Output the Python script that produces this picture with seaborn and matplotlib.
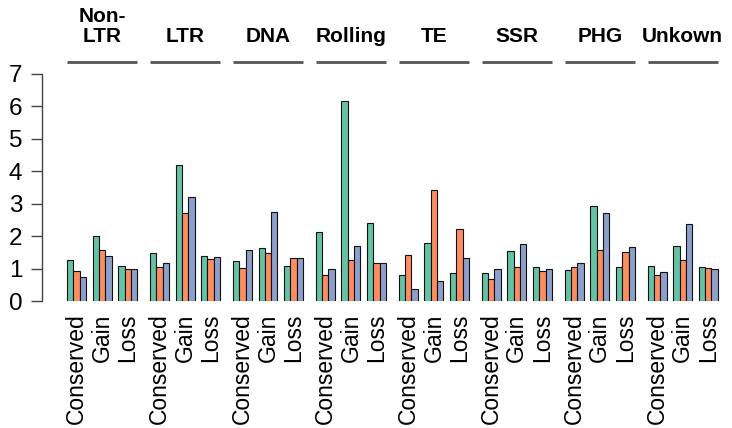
import numpy as np
import pandas as pd
import matplotlib
matplotlib.use("Agg")
import matplotlib.pyplot as plt
import matplotlib.transforms as mtransforms
import seaborn as sns

groups = ["Non-\nLTR", "LTR", "DNA", "Rolling", "TE", "SSR", "PHG", "Unkown"]
subgroups = ["Conserved", "Gain", "Loss"]
series = ["A", "B", "C"]
colors = ["#66C2A5", "#FC8D62", "#8DA0CB"]

# values per series, ordered group by group, subgroup by subgroup
green = [1.27, 1.99, 1.08,
         1.47, 4.18, 1.40,
         1.24, 1.64, 1.09,
         2.14, 6.16, 2.40,
         0.80, 1.80, 0.85,
         0.85, 1.54, 1.06,
         0.96, 2.94, 1.05,
         1.08, 1.69, 1.05]
orange = [0.91, 1.58, 0.98,
          1.04, 2.71, 1.30,
          1.01, 1.48, 1.33,
          0.79, 1.27, 1.16,
          1.42, 3.43, 2.21,
          0.68, 1.06, 0.91,
          1.04, 1.56, 1.50,
          0.80, 1.27, 1.02]
blue = [0.73, 1.39, 0.98,
        1.16, 3.20, 1.35,
        1.57, 2.75, 1.33,
        0.98, 1.69, 1.16,
        0.36, 0.61, 1.33,
        1.00, 1.77, 1.00,
        1.18, 2.70, 1.65,
        0.89, 2.36, 0.99]
yticks = [0, 1, 2, 3, 4, 5, 6, 7]

GROUP_STRIDE = 3.24
rows = []
for si, vals in enumerate([green, orange, blue]):
    for gi, g in enumerate(groups):
        for ki, k in enumerate(subgroups):
            rows.append({"pos": gi * GROUP_STRIDE + ki, "series": series[si],
                         "value": vals[gi * 3 + ki]})
df = pd.DataFrame(rows)

plt.rcParams["font.family"] = ["Liberation Sans", "DejaVu Sans"]
fig = plt.figure(figsize=(7.32, 4.28), dpi=100)
W, H = 732, 428
ax = fig.add_axes([41.7 / W, (H - 301) / H, (725 - 41.7) / W, (301 - 74) / H])

sns.barplot(data=df, x="pos", y="value", hue="series", palette=colors,
            native_scale=True, width=0.74, gap=0, saturation=1,
            errorbar=None, edgecolor="#111111", linewidth=0.8,
            legend=False, ax=ax)

px_per_unit = 25.6
x0 = -(76.5 - 41.7) / px_per_unit
x1 = (725 - 76.5) / px_per_unit
ax.set_xlim(x0, x1)
ax.set_ylim(0, 7)

for s in ["top", "right", "bottom"]:
    ax.spines[s].set_visible(False)
ax.spines["left"].set_color("#444444")
ax.spines["left"].set_linewidth(1.0)

ax.set_yticks(yticks)
ax.set_yticklabels([str(t) for t in yticks], fontsize=17.5)
ax.tick_params(axis="y", length=8, width=1.0, color="#444444", pad=6)

xt = [gi * GROUP_STRIDE + ki for gi in range(len(groups)) for ki in range(3)]
ax.set_xticks(xt)
ax.set_xticklabels(subgroups * len(groups), rotation=90, fontsize=16.5)
ax.tick_params(axis="x", length=0, pad=9)
ax.set_xlabel("")
ax.set_ylabel("")

trans = mtransforms.blended_transform_factory(ax.transData, ax.transAxes)
for gi, g in enumerate(groups):
    left = gi * GROUP_STRIDE - 0.37
    right = gi * GROUP_STRIDE + 2 + 0.37
    ax.plot([left, right], [1.053, 1.053], transform=trans, color="#555555",
            lw=2.0, clip_on=False, solid_capstyle="butt")
    ax.text(gi * GROUP_STRIDE + 1, 1.123, g, transform=trans, ha="center",
            va="bottom", fontsize=15, fontweight="bold", linespacing=1.05)

fig.savefig("out.png", dpi=100)
